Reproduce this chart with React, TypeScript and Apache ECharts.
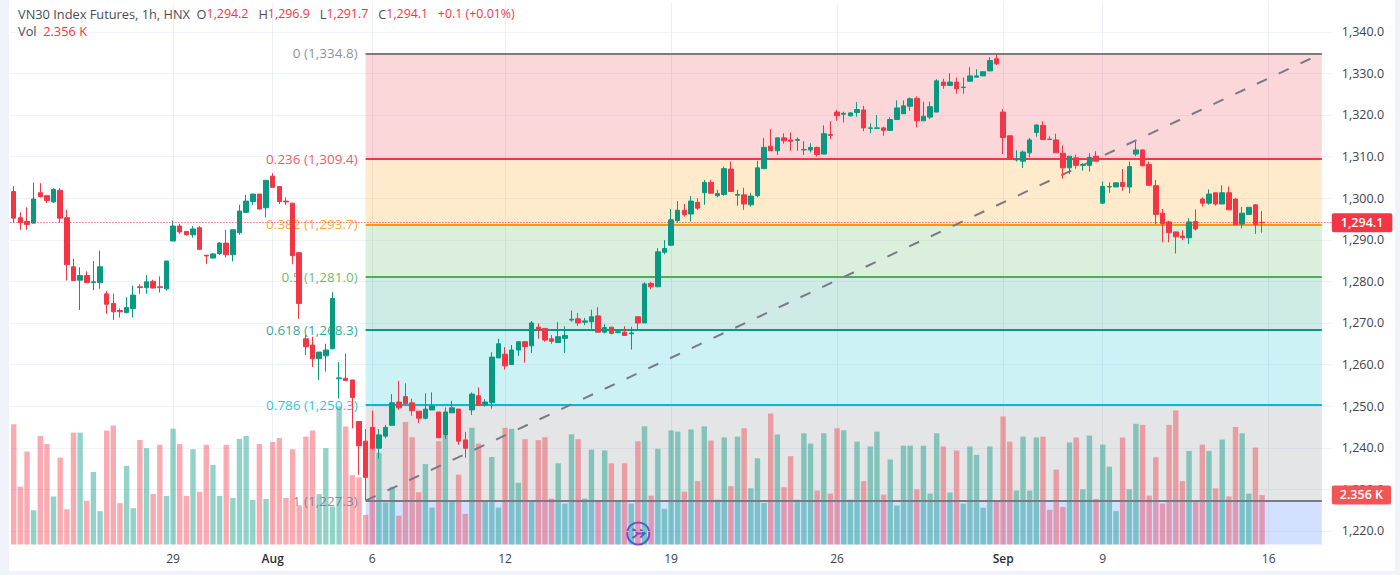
import React, { useEffect, useRef } from "react";
import * as echarts from "echarts";

const FONT = "'Open Sans', sans-serif";
const RED = "#F23645";
const GREEN = "#089981";

// [open, close, low, high]
const ohlc: number[][] = [
[1301.6,1295.2,1294.0,1302.9],[1295.3,1294.1,1292.4,1296.6],[1294.4,1293.7,1292.4,1297.8],[1294.0,1299.8,1294.0,1303.8],[1301.3,1300.4,1300.1,1303.6],
[1300.6,1299.4,1298.8,1300.6],[1299.1,1302.1,1298.9,1302.4],[1301.9,1295.2,1294.1,1302.4],[1295.3,1284.0,1280.2,1297.2],[1283.5,1280.2,1280.2,1285.4],
[1280.3,1281.4,1273.1,1283.4],[1281.4,1279.7,1279.7,1282.4],[1279.7,1279.9,1277.9,1284.9],[1279.7,1283.5,1278.2,1287.4],[1277.0,1274.5,1272.2,1277.7],
[1274.7,1272.7,1270.7,1277.1],[1273.0,1272.7,1271.3,1273.5],[1272.5,1273.7,1272.3,1276.2],[1273.5,1276.7,1271.3,1279.0],[1278.7,1278.5,1277.0,1279.3],
[1278.5,1279.9,1277.0,1281.5],[1280.0,1278.4,1278.3,1280.4],[1278.7,1278.5,1277.3,1281.2],[1278.2,1284.9,1277.8,1284.9],[1289.7,1293.3,1289.7,1294.6],
[1293.3,1291.9,1291.4,1293.8],[1292.0,1291.2,1291.0,1292.0],[1291.2,1292.6,1290.5,1293.3],[1292.9,1287.7,1287.7,1293.3],[1286.3,1286.1,1284.2,1286.3],
[1285.6,1286.6,1285.6,1286.8],[1286.7,1289.2,1286.4,1289.4],[1289.2,1286.4,1285.7,1292.4],[1286.4,1292.4,1284.8,1292.4],[1291.7,1296.9,1291.2,1298.4],
[1296.6,1299.3,1296.4,1300.8],[1299.2,1301.0,1298.4,1301.0],[1301.0,1297.4,1297.3,1301.0],[1297.7,1304.3,1295.4,1304.3],[1305.3,1302.6,1302.6,1306.0],
[1302.8,1299.2,1298.6,1302.8],[1299.3,1299.1,1298.4,1300.2],[1298.8,1286.2,1284.1,1298.8],[1286.9,1274.7,1271.0,1286.9],[1266.2,1264.3,1262.3,1267.1],
[1264.7,1261.4,1259.4,1266.7],[1261.4,1263.0,1256.3,1263.0],[1262.1,1263.5,1258.3,1265.0],[1263.8,1275.9,1263.7,1277.4],[1256.6,1256.8,1251.8,1260.6],
[1256.7,1256.2,1256.2,1262.7],[1256.3,1252.1,1244.7,1256.3],[1246.3,1240.5,1233.5,1246.3],[1241.6,1232.9,1227.3,1244.5],[1244.9,1239.9,1239.5,1248.9],
[1239.9,1243.1,1237.4,1244.5],[1242.8,1244.9,1242.3,1245.5],[1245.4,1250.8,1245.4,1252.9],[1251.0,1249.6,1249.1,1256.1],[1252.3,1250.6,1250.6,1255.5],
[1250.8,1248.9,1247.7,1251.8],[1248.8,1247.1,1245.9,1248.8],[1247.1,1249.3,1246.8,1253.1],[1249.1,1250.1,1249.1,1253.3],[1248.6,1242.4,1242.4,1248.6],
[1243.1,1248.6,1242.1,1249.7],[1248.4,1249.6,1248.4,1251.3],[1249.3,1241.6,1240.7,1249.3],[1241.9,1239.9,1237.6,1243.8],[1249.1,1252.9,1247.9,1253.3],
[1252.5,1250.2,1250.2,1254.5],[1250.3,1251.0,1249.9,1251.7],[1250.9,1261.8,1249.4,1263.0],[1261.6,1265.0,1261.6,1266.2],[1262.5,1259.7,1258.8,1264.2],
[1260.0,1263.5,1259.9,1264.7],[1263.5,1265.5,1262.1,1265.5],[1265.5,1264.3,1260.5,1265.5],[1264.5,1270.0,1262.8,1270.5],[1269.0,1268.5,1266.2,1269.9],
[1268.7,1265.9,1265.5,1268.7],[1266.2,1265.6,1265.0,1267.1],[1265.3,1266.7,1265.3,1270.2],[1266.3,1267.0,1262.8,1269.2],[1270.7,1270.9,1270.3,1273.0],
[1271.0,1270.0,1269.3,1272.4],[1270.2,1270.5,1269.5,1271.2],[1270.3,1271.5,1268.6,1273.2],[1271.7,1267.8,1267.8,1273.8],[1267.8,1268.9,1267.5,1269.7],
[1269.0,1267.5,1267.3,1269.0],[1267.7,1267.9,1267.5,1268.3],[1267.8,1267.0,1267.0,1269.2],[1267.4,1267.6,1263.6,1269.1],[1271.5,1270.0,1268.4,1271.5],
[1270.0,1279.4,1270.0,1279.8],[1279.5,1278.7,1278.1,1279.9],[1278.7,1287.1,1278.7,1288.0],[1287.0,1287.9,1286.5,1289.9],[1288.7,1294.8,1288.5,1297.4],
[1294.6,1297.1,1294.1,1299.3],[1297.1,1296.0,1295.6,1298.6],[1296.2,1299.3,1294.4,1300.5],[1299.0,1297.6,1297.2,1300.0],[1301.3,1303.8,1298.4,1304.4],
[1303.8,1301.2,1301.2,1304.4],[1300.6,1301.1,1300.2,1302.0],[1300.9,1307.1,1300.6,1307.6],[1307.0,1301.6,1301.6,1308.8],[1300.7,1300.9,1298.2,1302.0],
[1300.8,1298.6,1297.2,1302.5],[1298.4,1300.5,1298.0,1301.3],[1300.6,1307.3,1300.2,1309.0],[1307.1,1312.2,1307.1,1314.5],[1312.5,1311.4,1311.4,1316.6],
[1311.4,1314.5,1310.4,1314.6],[1314.5,1313.8,1313.1,1315.6],[1314.0,1313.7,1311.4,1315.8],[1313.9,1314.1,1311.4,1314.6],[1311.6,1311.7,1310.4,1313.7],
[1311.6,1312.2,1311.0,1313.2],[1312.2,1310.5,1310.0,1312.4],[1310.6,1315.5,1310.6,1317.5],[1315.3,1315.1,1314.2,1318.5],[1320.7,1319.8,1318.6,1321.2],
[1320.2,1320.4,1318.2,1320.8],[1319.8,1320.5,1319.6,1320.7],[1320.6,1321.3,1319.6,1323.1],[1321.2,1316.9,1316.1,1322.2],[1316.8,1316.9,1315.6,1318.0],
[1316.8,1316.9,1316.6,1320.0],[1316.9,1316.3,1315.0,1317.2],[1316.3,1318.9,1316.3,1319.4],[1318.9,1321.7,1318.8,1323.5],[1320.3,1322.2,1320.3,1323.5],
[1322.1,1323.9,1321.0,1324.2],[1324.0,1318.6,1317.0,1324.5],[1318.6,1319.7,1318.6,1323.2],[1319.5,1322.0,1319.0,1323.2],[1320.7,1328.2,1320.7,1328.6],
[1327.9,1327.1,1326.3,1328.7],[1327.1,1327.9,1327.1,1330.0],[1327.9,1326.3,1325.1,1329.0],[1326.6,1326.7,1325.1,1329.0],[1328.1,1329.4,1328.1,1331.5],
[1329.1,1329.4,1329.1,1331.0],[1329.4,1330.4,1329.4,1330.4],[1330.6,1333.1,1330.6,1333.9],[1333.5,1332.3,1332.0,1334.8],[1320.7,1314.6,1310.6,1321.4],
[1315.0,1309.3,1309.3,1315.0],[1309.2,1309.4,1308.8,1311.5],[1308.9,1311.1,1307.3,1311.5],[1310.9,1314.0,1309.8,1314.5],[1315.8,1317.6,1314.8,1317.7],
[1317.5,1314.1,1314.1,1318.5],[1314.2,1314.1,1314.0,1314.9],[1314.0,1310.9,1310.9,1315.5],[1310.8,1307.3,1304.7,1312.7],[1307.3,1310.1,1305.8,1310.1],
[1309.7,1307.9,1307.1,1310.5],[1307.9,1308.1,1306.6,1308.5],[1307.9,1309.8,1306.4,1310.8],[1310.1,1308.9,1308.9,1311.3],[1298.8,1302.8,1298.6,1304.0],
[1302.7,1302.8,1301.3,1303.8],[1302.7,1303.7,1302.7,1303.7],[1303.8,1302.8,1301.8,1307.0],[1302.7,1307.6,1301.2,1308.8],[1310.6,1311.6,1310.1,1313.6],
[1311.6,1307.8,1307.6,1311.7],[1308.1,1303.1,1303.1,1308.8],[1303.0,1296.1,1293.8,1304.4],[1296.4,1293.9,1289.4,1297.4],[1294.3,1291.7,1289.4,1294.6],
[1291.9,1290.7,1286.7,1291.9],[1290.9,1290.5,1289.9,1292.3],[1290.5,1294.3,1289.0,1295.2],[1294.4,1292.6,1292.2,1297.3],[1299.8,1298.8,1298.0,1300.2],
[1298.8,1301.0,1298.4,1302.1],[1301.3,1298.6,1298.2,1301.3],[1298.6,1301.3,1298.6,1303.1],[1301.3,1297.2,1297.2,1302.8],[1299.8,1293.6,1293.6,1300.0],
[1293.8,1296.4,1292.7,1297.9],[1296.1,1297.8,1296.0,1297.8],[1298.4,1293.6,1291.4,1298.5],[1294.2,1294.1,1291.7,1296.9],
];

// volume, thousands
const volumes: number[] = [
5.73,2.76,4.43,1.63,5.17,4.79,2.29,4.14,1.68,5.33,5.33,2.08,3.46,1.59,5.43,5.67,1.97,3.75,1.73,4.98,
4.59,2.41,4.75,2.32,5.52,4.79,2.32,4.54,2.51,4.75,3.79,2.32,4.75,2.22,5.03,5.17,2.13,4.79,2.17,4.89,
5.08,2.22,4.54,1.87,5.14,5.43,2.40,4.59,1.81,6.57,5.62,3.30,3.20,1.41,4.60,4.37,2.00,2.75,1.37,5.84,
5.11,2.49,3.83,1.76,4.92,5.20,2.08,3.33,1.46,5.56,4.81,2.02,4.17,1.76,5.56,5.51,2.94,5.02,2.08,4.97,
5.11,2.19,3.87,1.95,5.25,5.02,2.19,4.52,2.08,4.48,3.87,2.08,3.87,1.95,4.92,5.63,2.33,4.56,1.70,5.44,
5.38,2.52,5.48,3.02,5.63,4.95,2.14,5.10,2.78,5.14,5.54,2.68,4.11,1.98,6.24,5.24,2.73,4.21,2.14,5.30,
4.81,2.57,5.30,2.43,5.54,5.44,2.14,4.90,3.02,4.67,5.38,2.38,4.05,1.86,4.71,4.71,2.63,4.71,2.43,5.30,
4.67,2.48,4.48,1.95,4.67,4.27,1.75,4.67,2.05,6.10,4.90,2.57,5.14,2.57,5.10,5.14,1.65,3.57,1.79,4.86,
5.10,2.63,5.19,2.17,4.76,3.71,1.59,5.10,2.63,5.75,5.70,2.33,4.16,1.95,5.70,6.38,3.02,4.46,2.05,4.76,
4.46,2.68,5.00,2.29,5.60,5.30,2.43,4.62,2.356,
];

const fibNames = ["0", "0.236", "0.382", "0.5", "0.618", "0.786", "1"];
const fibValues = [1334.8, 1309.4, 1293.7, 1281.0, 1268.3, 1250.3, 1227.3];
const fibColors = ["#787B86", "#F23645", "#FF9800", "#4CAF50", "#089981", "#00BCD4", "#787B86"];
const fibFills = [
  "rgba(242,54,69,0.2)",
  "rgba(255,152,0,0.2)",
  "rgba(76,175,80,0.2)",
  "rgba(8,153,129,0.2)",
  "rgba(0,188,212,0.2)",
  "rgba(120,123,134,0.2)",
  "rgba(41,98,255,0.2)",
];
const fibStartBar = 53;
const fibEndBar = 197;

const xTickBars = [24, 39, 54, 74, 99, 124, 149, 164, 189];
const xTickLabels = ["29", "Aug", "6", "12", "19", "26", "Sep", "9", "16"];
const boldTicks = ["Aug", "Sep"];
const barCount = 199;
const categories = Array.from({ length: barCount }, (_, i) => String(i));

const lastPrice = 1294.1;
const lastVolume = 2.356;
const header = { symbol: "VN30 Index Futures, 1h, HNX", o: "1,294.2", h: "1,296.9", l: "1,291.7", c: "1,294.1", chg: "+0.1 (+0.01%)", vol: "2.356 K" };

const money = (v: number) => v.toLocaleString("en-US", { minimumFractionDigits: 1, maximumFractionDigits: 1 });

let registered = false;
function registerIcon() {
  if (registered) return;
  registered = true;
  echarts.graphic.registerShape(
    "dividendIcon",
    echarts.graphic.extendPath("M-6 -4 C-3 -4 -2 -2 -1 0 C-2 2 -3 4 -6 4 M-1 0 L6 0 M2 -4 L6.5 0 L2 4", {})
  );
}

export default function App() {
  const ref = useRef<HTMLDivElement>(null);
  useEffect(() => {
    document.body.style.margin = "0";
    registerIcon();
    const chart = echarts.init(ref.current!, null, { renderer: "svg" });
    const rich = {
      g: { color: "#4a4d57", fontSize: 12.8, fontFamily: FONT },
      r: { color: RED, fontSize: 12.4, fontFamily: FONT },
      v: { color: RED, fontSize: 12.8, fontFamily: FONT },
    };
    chart.setOption({
      animation: false,
      title: [
        {
          left: 18,
          top: 7,
          padding: 0,
          text: `{g|${header.symbol}  O}{r|${header.o}}{g|   H}{r|${header.h}}{g|   L}{r|${header.l}}{g|   C}{r|${header.c}}{r|   ${header.chg}}`,
          textStyle: { rich, fontSize: 12.8, fontWeight: "normal" },
        },
        {
          left: 18,
          top: 24.5,
          padding: 0,
          text: `{g|Vol}{v|  ${header.vol}}`,
          textStyle: { rich, fontSize: 12.8, fontWeight: "normal" },
        },
      ],
      grid: { left: 10.4, top: 3, width: 1321.4, height: 541.5 },
      xAxis: {
        type: "category",
        data: categories,
        axisLine: { show: false },
        axisTick: { show: false },
        splitLine: { show: false },
        axisLabel: {
          interval: (i: number) => xTickBars.includes(i),
          margin: 8,
          hideOverlap: false,
          formatter: (_: string, i: number) => {
            const t = xTickLabels[xTickBars.indexOf(i)] ?? "";
            return boldTicks.includes(t) ? `{b|${t}}` : t;
          },
          color: "#3f424c",
          fontSize: 12,
          fontFamily: FONT,
          rich: { b: { color: "#2a2d37", fontSize: 12, fontWeight: 600, fontFamily: FONT } },
        },
      },
      yAxis: [
        {
          type: "value",
          position: "right",
          min: 1216.75,
          max: 1346.92,
          minInterval: 10,
          maxInterval: 10,
          splitNumber: 13,
          axisLine: { show: false },
          axisTick: { show: false },
          splitLine: { show: true, showMinLine: false, showMaxLine: false, lineStyle: { color: "#f0f3fa", width: 1 } },
          axisLabel: {
            margin: 10,
            showMinLabel: false,
            showMaxLabel: false,
            color: "#3f424c",
            fontSize: 12.5,
            fontFamily: FONT,
            formatter: (v: number) => money(v),
          },
        },
        { type: "value", min: 0, max: 25.8, show: false, splitLine: { show: false } },
      ],
      graphic: [
        {
          type: "group",
          x: 638.3,
          y: 533.5,
          z: 20,
          children: [
            { type: "circle", shape: { r: 11 }, style: { fill: "#ffffff", stroke: "#7a3ff2", lineWidth: 2 } },
            { type: "dividendIcon", style: { fill: "none", stroke: "#7a3ff2", lineWidth: 1.8 } },
          ],
        },
      ],
      series: [
        {
          name: "grid-and-zones",
          type: "line",
          data: [],
          silent: true,
          markLine: {
            silent: true,
            z: 0,
            symbol: "none",
            label: { show: false },
            lineStyle: { color: "#eceff6", width: 1, type: "solid" },
            data: xTickBars.map((b) => ({ xAxis: String(b) })),
          },
          markArea: {
            silent: true,
            z: 1,
            data: fibFills.map((fill, i) => [
              { coord: [String(fibStartBar), fibValues[i]], itemStyle: { color: fill } },
              { coord: [String(fibEndBar), i + 1 < fibValues.length ? fibValues[i + 1] : 1216.75] },
            ]),
          },
        },
        {
          name: "Vol",
          type: "bar",
          yAxisIndex: 1,
          z: 2,
          barWidth: 5.4,
          silent: true,
          data: volumes.map((v, i) => ({
            value: v,
            itemStyle: { color: ohlc[i][1] >= ohlc[i][0] ? "rgba(8,153,129,0.44)" : "rgba(242,54,69,0.42)" },
          })),
          markLine: {
            silent: true,
            z: 6,
            symbol: "none",
            lineStyle: { color: "rgba(0,0,0,0)", width: 1, type: "solid" },
            data: [
              {
                yAxis: lastVolume,
                label: {
                  show: true,
                  position: "end",
                  distance: 0,
                  formatter: header.vol,
                  color: "#fff",
                  fontSize: 12.5,
                  fontWeight: 600,
                  fontFamily: FONT,
                  backgroundColor: "#F25555",
                  borderRadius: 2,
                  padding: [3, 8],
                },
              },
            ],
          },
        },
        {
          name: "fib-levels",
          type: "line",
          data: [],
          silent: true,
          markLine: {
            silent: true,
            z: 3,
            symbol: "none",
            data: fibValues.map((v, i) => [
              {
                coord: [String(fibStartBar), v],
                lineStyle: { color: fibColors[i], width: 2, type: "solid" },
                label: {
                  show: true,
                  position: "start",
                  distance: 8,
                  formatter: `${fibNames[i]} (${money(v)})`,
                  color: fibColors[i],
                  opacity: 0.85,
                  fontSize: 13.5,
                  fontFamily: FONT,
                },
              },
              { coord: [String(fibEndBar), v] },
            ]),
          },
        },
        {
          name: "trend",
          type: "line",
          z: 3,
          symbol: "none",
          silent: true,
          lineStyle: { color: "#787B86", width: 2, type: [11, 13] },
          data: [
            [String(fibStartBar), fibValues[fibValues.length - 1]],
            [String(fibEndBar), fibValues[0]],
          ],
        },
        {
          name: "VN30 Index Futures",
          type: "candlestick",
          z: 4,
          barWidth: 5,
          silent: true,
          data: ohlc,
          itemStyle: { color: GREEN, color0: RED, borderColor: GREEN, borderColor0: RED, borderWidth: 1 },
          markLine: {
            silent: true,
            z: 6,
            symbol: "none",
            lineStyle: { color: RED, width: 1, type: [1, 2] },
            data: [
              {
                yAxis: lastPrice,
                label: {
                  show: true,
                  position: "end",
                  distance: 0,
                  formatter: money(lastPrice),
                  color: "#fff",
                  fontSize: 12.5,
                  fontWeight: 600,
                  fontFamily: FONT,
                  backgroundColor: RED,
                  borderRadius: 2,
                  padding: [3, 9],
                },
              },
            ],
          },
        },
      ],
    });
    return () => chart.dispose();
  }, []);
  return (
    <div style={{ position: "fixed", left: 0, top: 0, width: 1400, height: 575, background: "#f0f3fa", overflow: "hidden" }}>
      <div style={{ position: "absolute", left: 9, top: 0, width: 1386, height: 571, background: "#ffffff" }} />
      <div ref={ref} style={{ position: "absolute", left: 0, top: 0, width: 1400, height: 575 }} />
    </div>
  );
}
